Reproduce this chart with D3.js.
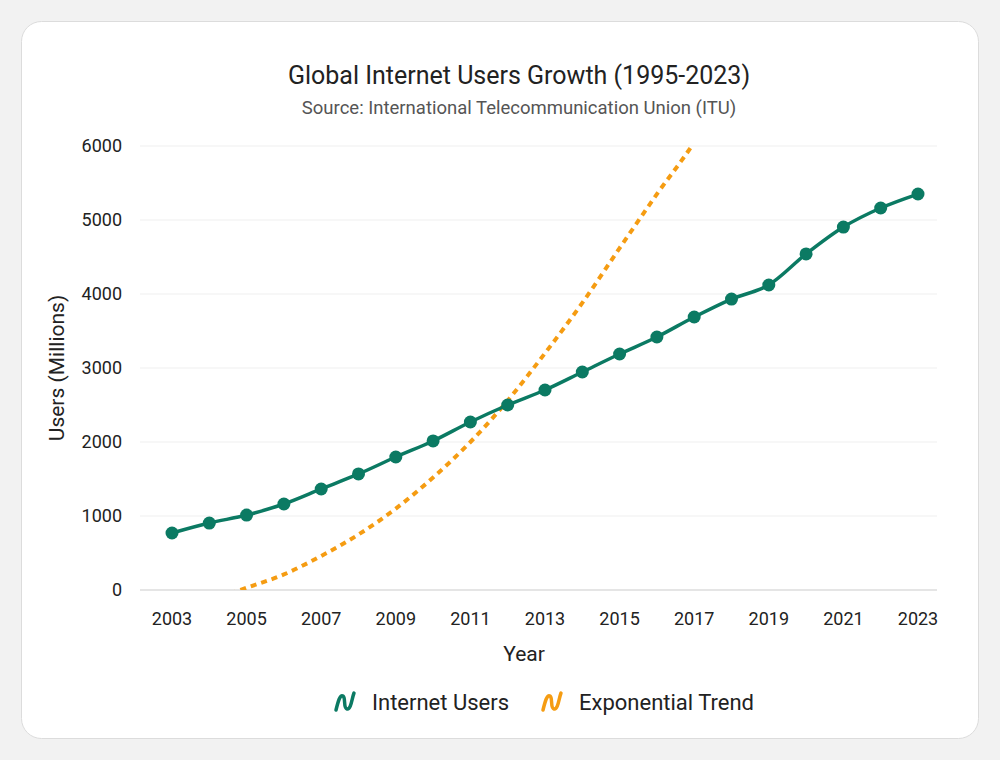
<!DOCTYPE html>
<html>
<head>
<meta charset="utf-8">
<script src="https://cdn.jsdelivr.net/npm/d3@7"></script>
<style>
  body { margin: 0; background: #f2f2f2; font-family: Roboto, "Noto Sans", sans-serif; }
</style>
</head>
<body>
<svg id="chart" width="1000" height="760"></svg>
<script>
// data
var years = [2003, 2004, 2005, 2006, 2007, 2008, 2009, 2010, 2011, 2012, 2013,
             2014, 2015, 2016, 2017, 2018, 2019, 2020, 2021, 2022, 2023];
var users = [770, 905, 1013, 1162, 1365, 1568, 1797, 2014, 2270, 2500, 2703,
             2946, 3189, 3419, 3689, 3932, 4122, 4541, 4905, 5162, 5351];
var trendYears = [2004, 2005, 2006, 2007, 2008, 2009, 2010, 2011, 2012, 2013, 2014, 2015, 2016, 2017, 2018];
var trend = [-150, 30, 210, 460, 750, 1100, 1520, 2000, 2560, 3200, 3880, 4620, 5350, 6050, 6900];
var yTicks = [0, 1000, 2000, 3000, 4000, 5000, 6000];
var xTicks = [2003, 2005, 2007, 2009, 2011, 2013, 2015, 2017, 2019, 2021, 2023];

var svg = d3.select("#chart");
var green = "#0b7a63", orange = "#f59c12";

// card
svg.append("rect").attr("x", 21.5).attr("y", 21.5).attr("width", 957).attr("height", 717)
  .attr("rx", 20).attr("fill", "#fff").attr("stroke", "#dcdcdc");

var x = d3.scaleLinear().domain([2003, 2023]).range([172, 918]);
var y = d3.scaleLinear().domain([0, 6000]).range([590, 146]);

// gridlines
svg.append("g").selectAll("line").data(yTicks).join("line")
  .attr("x1", 140).attr("x2", 937)
  .attr("y1", d => y(d)).attr("y2", d => y(d))
  .attr("stroke", d => d === 0 ? "#dddddd" : "#efefef").attr("stroke-width", d => d === 0 ? 1.5 : 1);

// y axis labels
svg.append("g").selectAll("text").data(yTicks).join("text")
  .attr("x", 122).attr("y", d => y(d) + 6).attr("text-anchor", "end")
  .attr("font-size", 18).attr("fill", "#222").text(d => d);

// x axis labels
svg.append("g").selectAll("text").data(xTicks).join("text")
  .attr("x", d => x(d)).attr("y", 625).attr("text-anchor", "middle")
  .attr("font-size", 18).attr("fill", "#222").text(d => d);

// titles
svg.append("text").attr("x", 519).attr("y", 84).attr("text-anchor", "middle")
  .attr("font-size", 25).attr("fill", "#222").text("Global Internet Users Growth (1995-2023)");
svg.append("text").attr("x", 519).attr("y", 114).attr("text-anchor", "middle")
  .attr("font-size", 18.5).attr("fill", "#555").text("Source: International Telecommunication Union (ITU)");
svg.append("text").attr("x", 524).attr("y", 661).attr("text-anchor", "middle")
  .attr("font-size", 21).attr("fill", "#222").text("Year");
svg.append("text").attr("transform", "translate(64,368) rotate(-90)").attr("text-anchor", "middle")
  .attr("font-size", 21).attr("fill", "#222").text("Users (Millions)");

// clip for trend
svg.append("clipPath").attr("id", "plot").append("rect")
  .attr("x", 140).attr("y", 146).attr("width", 797).attr("height", 444);

var trendLine = d3.line().x((d, i) => x(trendYears[i])).y(d => y(d)).curve(d3.curveMonotoneX);
svg.append("path").datum(trend).attr("clip-path", "url(#plot)")
  .attr("d", trendLine).attr("fill", "none").attr("stroke", orange)
  .attr("stroke-width", 4).attr("stroke-dasharray", "6,5");

var userLine = d3.line().x((d, i) => x(years[i])).y(d => y(d)).curve(d3.curveMonotoneX);
svg.append("path").datum(users).attr("d", userLine).attr("fill", "none")
  .attr("stroke", green).attr("stroke-width", 3.5);
svg.append("g").selectAll("circle").data(users).join("circle")
  .attr("cx", (d, i) => x(years[i])).attr("cy", d => y(d)).attr("r", 6.5).attr("fill", green);

// legend
var legend = [{name: "Internet Users", color: green, x: 334}, {name: "Exponential Trend", color: orange, x: 541}];
var lg = svg.append("g").selectAll("g").data(legend).join("g")
  .attr("transform", d => "translate(" + d.x + ",702)");
lg.append("path").attr("d", "M2,8 C4,0 6,-8 9,-6 C12,-4 9,6 13,7 C17,8 18,-4 20,-9")
  .attr("fill", "none").attr("stroke", d => d.color).attr("stroke-width", 3.5).attr("stroke-linecap", "round");
lg.append("text").attr("x", 38).attr("y", 8).attr("font-size", 22).attr("fill", "#222").text(d => d.name);
</script>
</body>
</html>
